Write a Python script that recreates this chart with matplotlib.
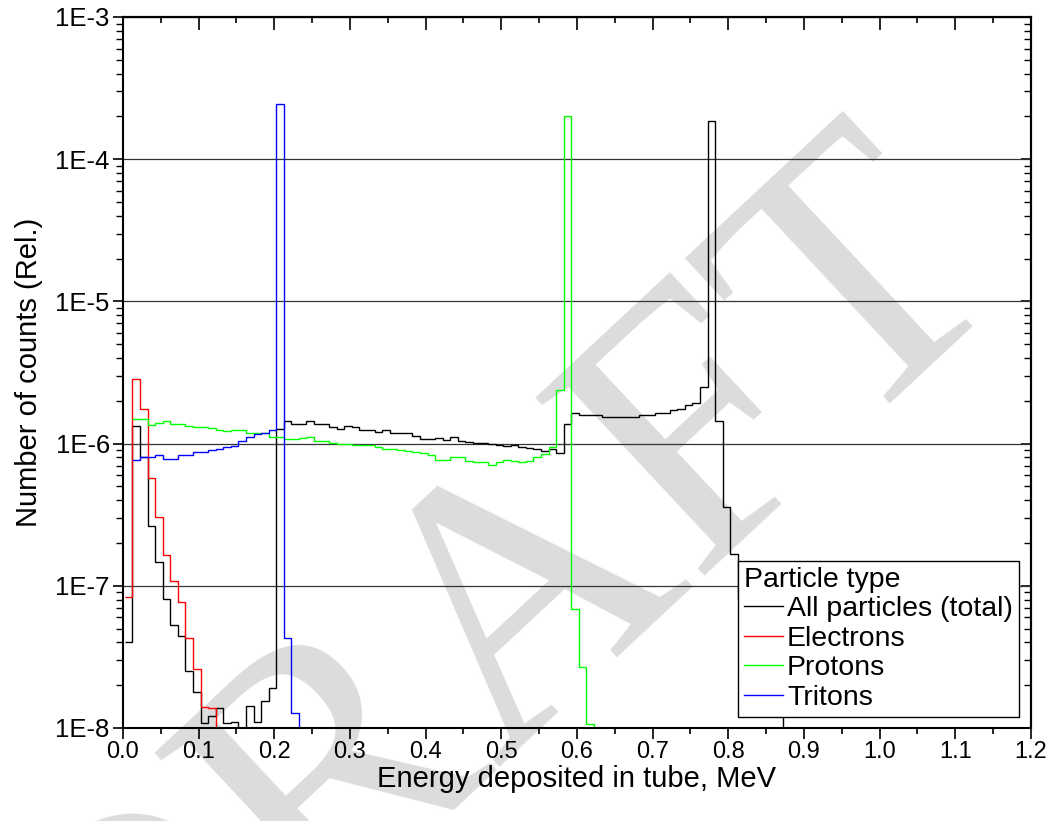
import numpy as np
import matplotlib
matplotlib.use("Agg")
import matplotlib.pyplot as plt
from matplotlib.ticker import LogLocator, NullFormatter, FuncFormatter, MultipleLocator

plt.rcParams['font.family'] = ['Liberation Sans', 'DejaVu Sans']

# histogram binning (MeV)
bin_width = 0.01
first_edge = 0.0025

# relative counts per bin (0 = empty / below the axis)
total_counts = [4.0e-8, 1.34e-6, 8.1e-7, 2.65e-7, 1.48e-7, 8.1e-8, 5.3e-8, 4.4e-8, 2.5e-8, 1.78e-8,
                1.08e-8, 1.22e-8, 1.38e-8, 1.08e-8, 1.11e-8, 0, 1.42e-8, 1.1e-8, 1.55e-8, 1.92e-8,
                1.26e-6, 1.44e-6, 1.38e-6, 1.37e-6, 1.44e-6, 1.38e-6, 1.37e-6, 1.31e-6, 1.27e-6, 1.32e-6,
                1.30e-6, 1.24e-6, 1.24e-6, 1.21e-6, 1.25e-6, 1.19e-6, 1.19e-6, 1.18e-6, 1.13e-6, 1.08e-6,
                1.07e-6, 1.10e-6, 1.06e-6, 1.11e-6, 1.04e-6, 1.02e-6, 1.01e-6, 1.01e-6, 1.00e-6, 0.98e-6,
                0.96e-6, 0.97e-6, 0.95e-6, 0.93e-6, 0.91e-6, 0.89e-6, 0.91e-6, 0.86e-6, 1.38e-6, 1.63e-6,
                1.58e-6, 1.58e-6, 1.58e-6, 1.54e-6, 1.54e-6, 1.54e-6, 1.54e-6, 1.53e-6, 1.58e-6, 1.60e-6,
                1.63e-6, 1.64e-6, 1.71e-6, 1.76e-6, 1.86e-6, 1.93e-6, 2.5e-6, 1.85e-4, 1.44e-6, 3.6e-7,
                1.68e-7, 8.1e-8, 6.6e-8, 5.0e-8, 3.6e-8, 2.5e-8, 1.6e-8, 0]
total_start = 0

electrons = [8.3e-8, 2.84e-6, 1.75e-6, 5.7e-7, 3.03e-7, 1.64e-7, 1.08e-7, 7.7e-8, 4.3e-8, 2.6e-8,
             1.41e-8, 1.38e-8, 0]
electrons_start = 0

protons = [1.49e-6, 1.48e-6, 1.36e-6, 1.39e-6, 1.45e-6, 1.37e-6, 1.37e-6, 1.32e-6, 1.31e-6, 1.31e-6,
           1.29e-6, 1.25e-6, 1.22e-6, 1.25e-6, 1.24e-6, 1.18e-6, 1.18e-6, 1.19e-6, 1.12e-6, 1.11e-6,
           1.07e-6, 1.07e-6, 1.10e-6, 1.11e-6, 1.04e-6, 1.04e-6, 1.01e-6, 1.00e-6, 1.00e-6, 0.98e-6,
           0.98e-6, 0.97e-6, 0.95e-6, 0.92e-6, 0.91e-6, 0.90e-6, 0.89e-6, 0.87e-6, 0.86e-6, 0.83e-6,
           0.77e-6, 0.77e-6, 0.80e-6, 0.80e-6, 0.76e-6, 0.74e-6, 0.74e-6, 0.71e-6, 0.74e-6, 0.77e-6,
           0.76e-6, 0.74e-6, 0.76e-6, 0.80e-6, 0.84e-6, 0.95e-6, 2.4e-6, 2.0e-4, 6.9e-8, 2.7e-8,
           1.07e-8, 0]
protons_start = 1

tritons = [7.7e-7, 8.0e-7, 8.0e-7, 8.3e-7, 7.85e-7, 7.85e-7, 8.25e-7, 8.3e-7, 8.7e-7, 8.75e-7,
           9.0e-7, 9.1e-7, 9.5e-7, 9.6e-7, 1.04e-6, 1.11e-6, 1.17e-6, 1.19e-6, 1.24e-6, 2.44e-4,
           4.3e-8, 1.28e-8, 0]
tritons_start = 1

series = [("All particles (total)", total_counts, total_start, "#000000"),
          ("Electrons", electrons, electrons_start, "#ff0000"),
          ("Protons", protons, protons_start, "#00ff00"),
          ("Tritons", tritons, tritons_start, "#0000ff")]

x_ticks = [0.0, 0.1, 0.2, 0.3, 0.4, 0.5, 0.6, 0.7, 0.8, 0.9, 1.0, 1.1, 1.2]

fig = plt.figure(figsize=(10.53, 8.21), dpi=100, facecolor='white')
ax = fig.add_axes([0.1168, 0.1133, 0.8623, 0.866])
ax.patch.set_alpha(0)
ax.set_zorder(1)

# watermark behind everything
fig.text(0.535, 0.150, "DRAFT", fontsize=270, rotation=43, color='#dcdcdc',
         family='Liberation Serif', ha='center', va='baseline',
         rotation_mode='anchor', zorder=0)

for label, vals, start, color in series:
    vals = np.array(vals, dtype=float)
    edges = first_edge + bin_width * (start + np.arange(len(vals) + 1))
    ax.stairs(vals, edges, baseline=None, color=color, lw=1.0, label=label)

ax.set_yscale('log')
ax.set_xlim(0, 1.2)
ax.set_ylim(1e-8, 1e-3)

ax.set_xticks(x_ticks)
ax.xaxis.set_major_formatter(FuncFormatter(lambda v, p: "%.1f" % v))
ax.xaxis.set_minor_locator(MultipleLocator(0.05))
ax.yaxis.set_major_locator(LogLocator(base=10, numticks=10))
ax.yaxis.set_minor_locator(LogLocator(base=10, subs=np.arange(2, 10), numticks=20))
ax.yaxis.set_minor_formatter(NullFormatter())
ax.yaxis.set_major_formatter(FuncFormatter(lambda v, p: "1E%d" % round(np.log10(v))))

ax.tick_params(axis='x', which='major', direction='out', labelsize=17, length=8, width=1.2, pad=1.5)
ax.tick_params(axis='x', which='minor', direction='out', length=4.5, width=1.2)
ax.tick_params(axis='y', which='major', direction='out', labelsize=18.5, length=7.5, width=1.2, pad=2)
ax.tick_params(axis='y', which='minor', direction='out', length=5, width=1.0)

# top / right ticks point inwards
top = ax.secondary_xaxis('top')
top.set_xticks(x_ticks)
top.xaxis.set_minor_locator(MultipleLocator(0.05))
top.tick_params(which='major', direction='in', length=9, width=1.2, labeltop=False)
top.tick_params(which='minor', direction='in', length=4.5, width=1.2)
right = ax.secondary_yaxis('right')
right.yaxis.set_major_locator(LogLocator(base=10, numticks=10))
right.yaxis.set_minor_locator(LogLocator(base=10, subs=np.arange(2, 10), numticks=20))
right.yaxis.set_major_formatter(NullFormatter())
right.yaxis.set_minor_formatter(NullFormatter())
right.tick_params(which='major', direction='in', length=7.5, width=1.2)
right.tick_params(which='minor', direction='in', length=5, width=1.0)

for sp in ax.spines.values():
    sp.set_linewidth(1.5)
top.spines['top'].set_linewidth(1.5)
right.spines['right'].set_linewidth(1.5)

ax.grid(axis='y', which='major', color='#333333', lw=0.9)
ax.set_axisbelow(True)

ax.set_xlabel("Energy deposited in tube, MeV", fontsize=21, labelpad=1)
ax.set_ylabel("Number of counts (Rel.)", fontsize=21, labelpad=9)

leg = ax.legend(title="Particle type", loc='lower right', bbox_to_anchor=(0.987, 0.0155),
                borderaxespad=0, fontsize=20.5, title_fontsize=20.5, frameon=True, fancybox=False,
                edgecolor='black', framealpha=1, handlelength=1.35, handletextpad=0.15,
                labelspacing=0.12, borderpad=0.22, alignment='left')
leg.get_frame().set_linewidth(1.0)

fig.savefig("out.png", dpi=100)
